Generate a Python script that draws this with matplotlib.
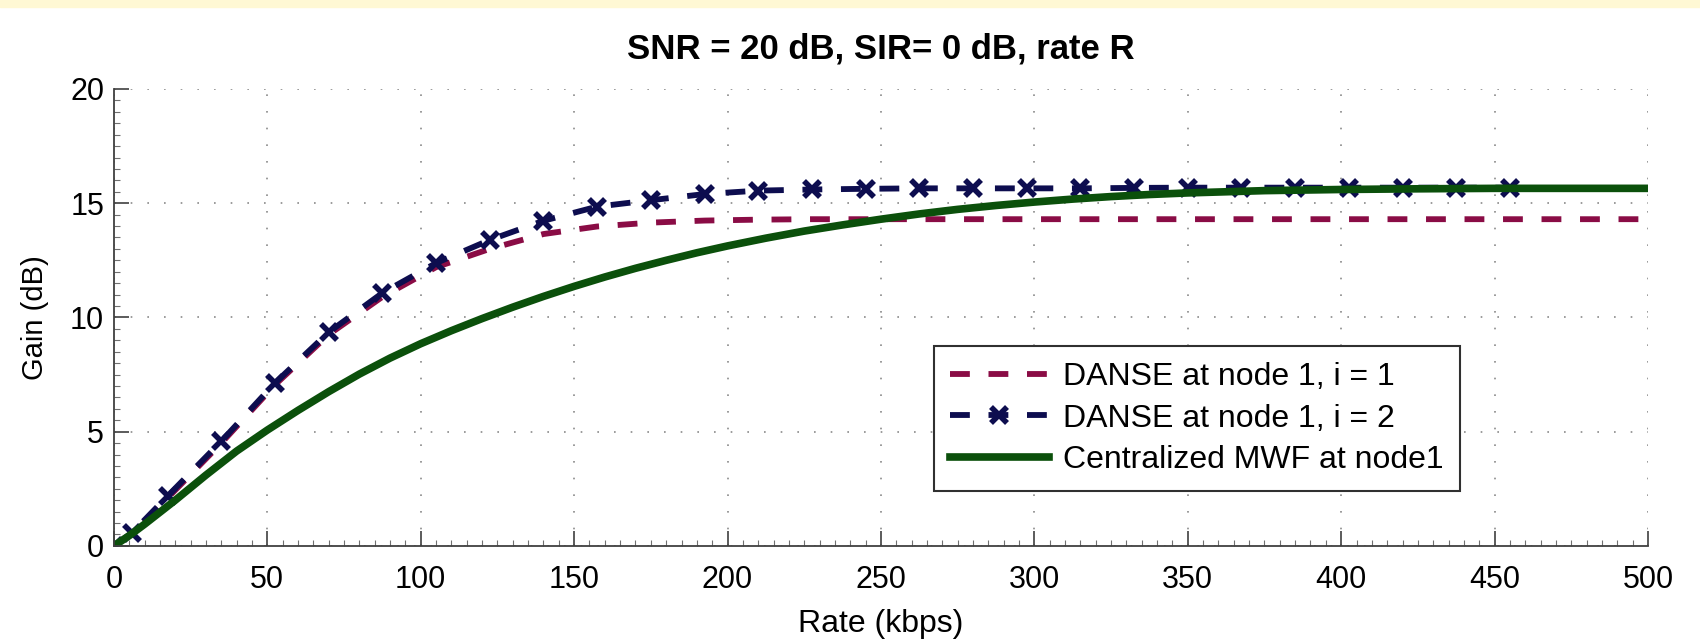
import matplotlib
matplotlib.use('Agg')
import matplotlib.pyplot as plt
from matplotlib.ticker import MultipleLocator

plt.rcParams['font.family'] = ['Liberation Sans', 'DejaVu Sans']

# rates where DANSE was evaluated (kbps)
rate_danse = [0, 6, 17.5, 35, 52.5, 70, 87.5, 105, 122.5, 140, 157.5, 175, 192.5,
              210, 227.5, 245, 262.5, 280, 297.5, 315, 332.5, 350, 367.5, 385,
              402.5, 420, 437.5, 455, 472.5, 490, 500]
gain_i1 = [0, 0.55, 2.1, 4.5, 7.05, 9.25, 10.9, 12.2, 13.0, 13.65, 13.98, 14.15, 14.24,
           14.28, 14.3, 14.3, 14.3, 14.3, 14.3, 14.3, 14.3, 14.3, 14.3, 14.3,
           14.3, 14.3, 14.3, 14.3, 14.3, 14.3, 14.3]
gain_i2 = [0, 0.58, 2.18, 4.58, 7.13, 9.35, 11.07, 12.38, 13.39, 14.23, 14.85, 15.13, 15.4,
           15.55, 15.6, 15.63, 15.65, 15.65, 15.65, 15.65, 15.67, 15.68, 15.68, 15.68,
           15.68, 15.68, 15.68, 15.68]

# centralized MWF
rate_mwf = [0, 5, 10, 20, 30, 40, 50, 60, 70, 80, 90, 100, 110, 120, 130, 140, 150, 160,
            170, 180, 190, 200, 212.5, 225, 237.5, 250, 262.5, 275, 287.5, 300, 312.5,
            325, 337.5, 350, 375, 400, 425, 450, 500]
gain_mwf = [0, 0.45, 0.95, 2.0, 3.1, 4.15, 5.07, 5.93, 6.75, 7.52, 8.22, 8.85, 9.42, 9.95,
            10.45, 10.92, 11.36, 11.77, 12.15, 12.5, 12.83, 13.13, 13.47, 13.78, 14.05,
            14.3, 14.53, 14.73, 14.9, 15.05, 15.18, 15.29, 15.38, 15.45, 15.55, 15.6,
            15.63, 15.65, 15.65]

labels = ['DANSE at node 1, i = 1', 'DANSE at node 1, i = 2', 'Centralized MWF at node1']

fig = plt.figure(figsize=(17, 6.4), dpi=100)
fig.patches.append(plt.Rectangle((0, 1 - 7 / 640), 1, 7 / 640, transform=fig.transFigure,
                                 color='#fff8d4', zorder=0))
ax = fig.add_axes([0.067, 0.147, 0.9024, 0.714])

ax.plot(rate_danse, gain_i1, color='#8a0c45', lw=4.2, dashes=(3.4, 3.2), label=labels[0])
ax.plot(rate_danse[:len(gain_i2)], gain_i2, color='#0d0d4f', lw=4.2, dashes=(3.4, 3.2),
        marker='x', ms=11, mew=4, label=labels[1])
ax.plot(rate_mwf, gain_mwf, color='#0b500b', lw=5.5, label=labels[2])

ax.set_xlim(0, 500)
ax.set_ylim(0, 20)
ax.xaxis.set_major_locator(MultipleLocator(50))
ax.yaxis.set_major_locator(MultipleLocator(5))
ax.xaxis.set_minor_locator(MultipleLocator(5))
ax.yaxis.set_minor_locator(MultipleLocator(0.5))
ax.grid(True, which='major', color='#8a8a8a', lw=1.2, linestyle=(0, (1, 9)))
ax.set_axisbelow(True)

for side in ['top', 'right']:
    ax.spines[side].set_visible(False)
for side in ['left', 'bottom']:
    ax.spines[side].set_color('#404040')
    ax.spines[side].set_linewidth(1.3)

ax.tick_params(which='major', direction='in', length=11, width=1.2, color='#404040',
               labelsize=22)
ax.tick_params(which='minor', direction='in', length=4, width=0.8, color='#707070')
ax.tick_params(axis='x', which='major', pad=14)
ax.tick_params(axis='y', which='major', pad=7)

ax.set_xlabel('Rate (kbps)', fontsize=23, labelpad=10)
ax.set_ylabel('Gain (dB)', fontsize=21)
ax.yaxis.set_label_coords(-0.042, 0.5)
ax.set_title('SNR = 20 dB, SIR= 0 dB, rate R', fontsize=25, fontweight='bold', pad=22)

leg = ax.legend(loc='lower left', bbox_to_anchor=(0.5345, 0.12), fontsize=23,
                frameon=True, fancybox=False, edgecolor='#303030', framealpha=1,
                handlelength=3.1, handletextpad=0.45, labelspacing=0.36, borderpad=0.5,
                borderaxespad=0)
leg.get_frame().set_linewidth(1.5)

fig.savefig('out.png', dpi=100)
